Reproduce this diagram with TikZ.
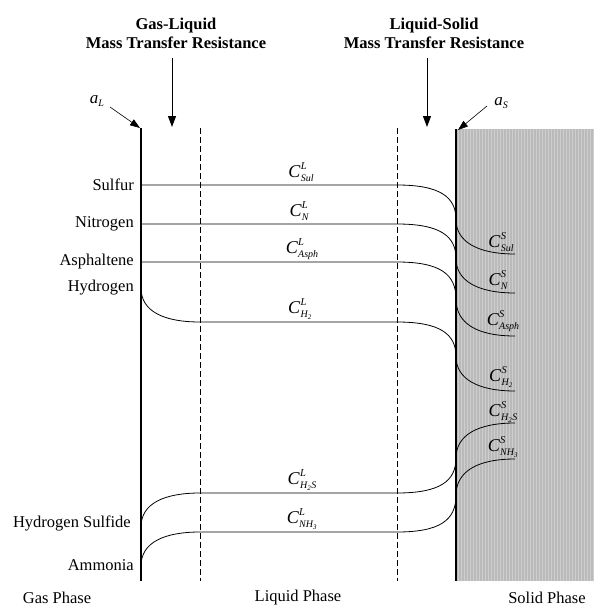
\documentclass[tikz,border=0pt]{standalone}
\usepackage{fontspec}
\setmainfont{Liberation Serif}
\usetikzlibrary{arrows.meta}
\newcommand\cc[2]{{\fontsize{18}{20}\selectfont\itshape C}\kern0.3pt\rlap{\raisebox{8pt}{\fontsize{10.5}{11}\selectfont\itshape #1}}\raisebox{-4pt}{\fontsize{10}{11}\selectfont\itshape #2}}
\newcommand\areaint[2]{{\fontsize{17}{18}\selectfont\itshape #1}\raisebox{-3pt}{\fontsize{10}{11}\selectfont\itshape #2}}
\begin{document}
\begin{tikzpicture}[x=1pt,y=-1pt,
  lbl/.style={font=\fontsize{16.5}{18}\selectfont, inner sep=0pt},
  species/.style={lbl, anchor=east},
  title/.style={font=\fontsize{16.5}{20}\selectfont\bfseries, align=center, inner sep=0pt},
  conc/.style={inner sep=0pt},
  prof/.style={line width=0.8pt},
  film/.style={line width=0.8pt, dash pattern=on 6pt off 3pt},
  bigarrow/.style={line width=1pt, -{Triangle[length=11pt,width=8pt]}},
  smallarrow/.style={line width=0.6pt, -{Triangle[length=10pt,width=7pt]}}]
\useasboundingbox (0,0) rectangle (595,616);
\fill[white] (0,0) rectangle (595,616);
% solid phase
\fill[black!27] (456,129) rectangle (594,581);
\foreach \i in {0,...,45} {
  \pgfmathsetmacro\xx{458+\i*3}
  \draw[white, opacity=0.3, line width=0.6pt] (\xx,129) -- (\xx,581);
}
\draw[line width=1.2pt] (456,129) -- (456,581);
% gas-liquid interface
\draw[line width=1.5pt] (141,128) -- (141,581);
% film boundaries
\draw[film] (200,128) -- (200,581);
\draw[film] (397,128) -- (397,581);
% titles
\node[title] (t1) at (176,33) {Gas-Liquid\\[-1pt]Mass Transfer Resistance};
\node[title] (t2) at (434,33) {Liquid-Solid\\[-1pt]Mass Transfer Resistance};
\coordinate (a1s) at (172,58); \coordinate (a1e) at (172,127);
\coordinate (a2s) at (427,58); \coordinate (a2e) at (427,127);
\draw[bigarrow] (a1s) -- (a1e);
\draw[bigarrow] (a2s) -- (a2e);
% interface labels
\node[lbl] (aL) at (97,101) {\areaint{a}{L}};
\node[lbl] (aS) at (501,103) {\areaint{a}{S}};
\coordinate (aLe) at (140,128);
\coordinate (aSe) at (458,130);
\draw[smallarrow] (110,107) -- (aLe);
\draw[smallarrow] (487,106) -- (aSe);
% species labels
\node[species] (sul) at (134,185) {Sulfur};
\node[species] (nit) at (134,224) {Nitrogen};
\node[species] (asp) at (134,262) {Asphaltene};
\node[species] (hyd) at (134,288) {Hydrogen};
\node[species] (h2s) at (131,523) {Hydrogen Sulfide};
\node[species] (nh3) at (134,565) {Ammonia};
% liquid concentrations
\node[conc] at (301,172) {\cc{L}{Sul}};
\node[conc] at (299,211) {\cc{L}{N}};
\node[conc] at (302,249) {\cc{L}{Asph}};
\node[conc] at (300,309) {\cc{L}{H\textsubscript{2}}};
\node[conc] at (302,480) {\cc{L}{H\textsubscript{2}S}};
\node[conc] at (302,519) {\cc{L}{NH\textsubscript{3}}};
% solid concentrations
\node[conc] at (501,242) {\cc{S}{Sul}};
\node[conc] at (498,280) {\cc{S}{N}};
\node[conc] at (503,321) {\cc{S}{Asph}};
\node[conc] at (501,377) {\cc{S}{H\textsubscript{2}}};
\node[conc] at (503,412) {\cc{S}{H\textsubscript{2}S}};
\node[conc] at (503,447) {\cc{S}{NH\textsubscript{3}}};
% profiles
\foreach \ya/\yb in {185/254, 224/293, 262/336} {
  \pgfmathsetmacro\ym{(\ya+\yb)/2}
  \draw[prof] (141,\ya) -- (397,\ya) .. controls (440,\ya) and (456,\ya+12) .. (456,\ym)
     .. controls (456,\yb-12) and (478,\yb) .. (515,\yb);
}
% hydrogen
\draw[prof] (141,288) .. controls (141,312) and (165,322) .. (200,322) -- (397,322)
  .. controls (440,322) and (456,334) .. (456,356.5) .. controls (456,379) and (478,391) .. (515,391);
% hydrogen sulfide
\draw[prof] (141,527) .. controls (141,503) and (165,493) .. (200,493) -- (397,493)
  .. controls (440,493) and (456,481) .. (456,458) .. controls (456,435) and (478,423) .. (515,423);
% ammonia
\draw[prof] (141,566) .. controls (141,542) and (165,532) .. (200,532) -- (397,532)
  .. controls (440,532) and (456,520) .. (456,495.5) .. controls (456,471) and (478,459) .. (515,459);
% phase labels
\node[lbl] (gp) at (57,598) {Gas Phase};
\node[lbl] (lp) at (298,598) {Liquid Phase};
\node[lbl] (sp) at (547,598) {Solid Phase};
\end{tikzpicture}
\end{document}
